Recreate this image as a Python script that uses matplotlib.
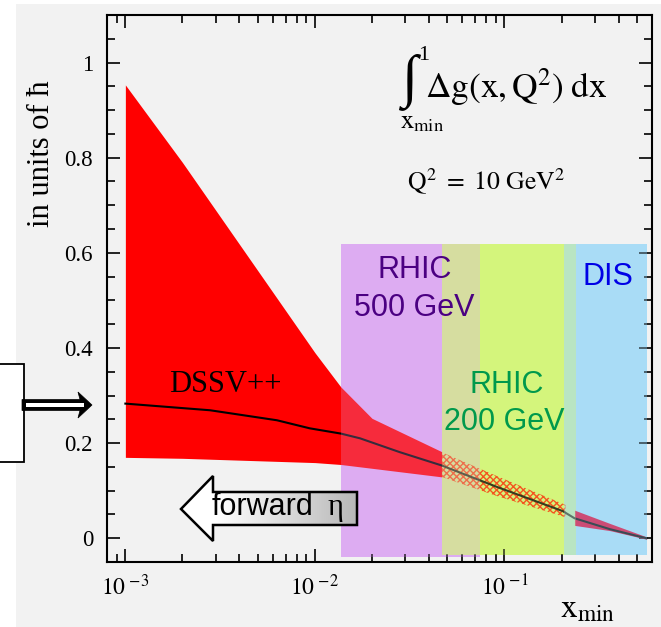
import numpy as np
import matplotlib
matplotlib.use('Agg')
import matplotlib.pyplot as plt
from matplotlib.patches import Rectangle, Polygon
from matplotlib.ticker import FixedLocator, LogLocator, NullFormatter

plt.rcParams['mathtext.fontset'] = 'stix'
plt.rcParams['font.family'] = ['Liberation Serif', 'DejaVu Serif']
plt.rcParams['hatch.linewidth'] = 1.0

# ---------------- data ----------------
# DSSV++ uncertainty band (solid part)
band_x = [1e-3, 2e-3, 1e-2, 0.0137, 0.02, 0.0466]
band_hi = [0.953, 0.790, 0.390, 0.318, 0.252, 0.182]
band_lo = [0.170, 0.168, 0.159, 0.155, 0.147, 0.129]
# band in RHIC 200 GeV region (hatched)
hatch_x = [0.0466, 0.0908, 0.21]
hatch_hi = [0.181, 0.131, 0.070]
hatch_lo = [0.129, 0.089, 0.044]
# band in DIS region
dis_x = [0.234, 0.36, 0.56]
dis_hi = [0.059, 0.031, 0.003]
dis_lo = [0.027, 0.016, -0.002]
# DSSV++ central curve
cv_x = [1e-3, 2.8e-3, 6.3e-3, 9.4e-3, 0.0137, 0.0173, 0.028, 0.0466,
        0.091, 0.203, 0.234, 0.36, 0.56]
cv_y = [0.283, 0.269, 0.248, 0.231, 0.220, 0.210, 0.181, 0.153,
        0.108, 0.057, 0.042, 0.019, 0.0]
# kinematic coverage regions
region_labels = ['RHIC\n500 GeV', 'RHIC\n200 GeV', 'DIS']
region_lo = [0.0137, 0.0466, 0.2055]
region_hi = [0.0741, 0.238, 0.5615]
region_top = [0.618, 0.618, 0.618]
region_bottom = [-0.040, -0.036, -0.035]
region_colors = ['#ddacf2', '#d4f57c', '#a9dcf6']
region_text_colors = ['#4b0082', '#00994c', '#0000e6']

x_ticks = [1e-3, 1e-2, 1e-1]
x_ticklabels = [r'$10^{\ \mathrm{-3}}$', r'$10^{\ \mathrm{-2}}$',
                r'$10^{\ \mathrm{-1}}$']
y_ticks = [0, 0.2, 0.4, 0.6, 0.8, 1.0]
y_ticklabels = ['0', '0.2', '0.4', '0.6', '0.8', '1']

# ---------------- figure ----------------
W, H = 661, 627
fig = plt.figure(figsize=(W / 100, H / 100), dpi=100)
fig.patch.set_facecolor('white')

bg = fig.add_axes([0, 0, 1, 1], zorder=0)
bg.set_xlim(0, W); bg.set_ylim(H, 0); bg.axis('off')
bg.add_patch(Rectangle((16, 4), W, H, facecolor='#f2f2f2', edgecolor='none'))

L, R, T, B = 107, 652, 15, 562
ax = fig.add_axes([L / W, 1 - B / H, (R - L) / W, (B - T) / H], zorder=1)
ax.set_facecolor('#f2f2f2')
ax.set_xscale('log')
ax.set_xlim(8e-4, 0.6)
ax.set_ylim(-0.05, 1.1)

def region(i, alpha=1.0, z=1.0):
    ax.fill_between([region_lo[i], region_hi[i]], [region_bottom[i]] * 2,
                    [region_top[i]] * 2, color=region_colors[i], lw=0,
                    alpha=alpha, zorder=z)

# base layers
region(0, 1.0, 1.0)
region(1, 1.0, 1.1)
region(0, 0.45, 1.2)
region(2, 1.0, 1.3)
region(1, 0.5, 1.4)

# band
ax.fill_between(band_x, band_lo, band_hi, color='#ff0000', lw=0, zorder=2)
ax.fill_between(hatch_x, hatch_lo, hatch_hi, facecolor='none',
                edgecolor='#ff2000', hatch='xxxxx', lw=0, zorder=2)
ax.fill_between(dis_x, dis_lo, dis_hi, color='#e00030', lw=0, zorder=2)
ax.plot(cv_x, cv_y, color='black', lw=1.5, zorder=2.5)

# translucent overlays
region(0, 0.25, 3.0)
region(1, 0.25, 3.1)
region(2, 0.35, 3.2)

# ticks
ax.xaxis.set_major_locator(FixedLocator(x_ticks))
ax.set_xticklabels(x_ticklabels)
ax.xaxis.set_minor_locator(LogLocator(base=10, subs=np.arange(2, 10)))
ax.xaxis.set_minor_formatter(NullFormatter())
ax.yaxis.set_major_locator(FixedLocator(y_ticks))
ax.set_yticklabels(y_ticklabels)
ax.yaxis.set_minor_locator(FixedLocator(np.arange(-0.05, 1.101, 0.05)))
ax.tick_params(which='both', direction='in', top=True, right=True,
               width=1.2, colors='black')
ax.tick_params(which='major', length=9.5)
ax.tick_params(which='minor', length=5.5)
ax.tick_params(axis='y', which='major', labelsize=16.5, pad=10)
ax.tick_params(axis='x', which='major', labelsize=17, pad=9)
for lab in ax.get_yticklabels():
    lab.set_family('Liberation Serif')
for s in ax.spines.values():
    s.set_linewidth(1.5)

# ---------------- overlay (pixel coordinates) ----------------
ov = fig.add_axes([0, 0, 1, 1], zorder=5)
ov.set_xlim(0, W); ov.set_ylim(H, 0); ov.axis('off')
ov.patch.set_alpha(0)

# region labels
sans = 'Liberation Sans'
ov.text(415, 278, 'RHIC', ha='center', va='baseline', fontsize=22,
        family=sans, color=region_text_colors[0])
ov.text(414, 316, '500 GeV', ha='center', va='baseline', fontsize=22,
        family=sans, color=region_text_colors[0])
ov.text(507, 393, 'RHIC', ha='center', va='baseline', fontsize=22,
        family=sans, color=region_text_colors[1])
ov.text(504, 430, '200 GeV', ha='center', va='baseline', fontsize=22,
        family=sans, color=region_text_colors[1])
ov.text(608, 285, 'DIS', ha='center', va='baseline', fontsize=22,
        family=sans, color=region_text_colors[2])

ov.text(169, 392, 'DSSV++', ha='left', va='baseline', fontsize=22,
        family='Liberation Serif')

# formula
ov.text(409, 94, '∫', ha='center', va='baseline', fontsize=42,
        family='Liberation Serif')
ov.text(418, 60, '1', ha='left', va='baseline', fontsize=16,
        family='Liberation Serif')
ov.text(400, 128, r'$\mathrm{x}_{\mathrm{min}}$', ha='left', va='baseline',
        fontsize=19)
ov.text(425, 98, r'$\Delta\mathrm{g}(\mathrm{x},\mathrm{Q}^{2})\;\mathrm{dx}$',
        ha='left', va='baseline', fontsize=25.5)
ov.text(407, 190, r'$\mathrm{Q}^{2}\ =\ 10\ \mathrm{GeV}^{2}$', ha='left',
        va='baseline', fontsize=18.5)

# axis titles
ov.text(42, 80, 'in units of ħ', rotation=90, ha='center', va='top',
        fontsize=22, family='Liberation Serif')
ov.text(560, 617, r'$\mathrm{x}_{\mathrm{min}}$', ha='left', va='baseline',
        fontsize=24)

# left box with double arrow
ov.add_patch(Rectangle((-5, 364), 29, 98, facecolor='white',
                       edgecolor='black', lw=1.3, zorder=6))
ov.add_patch(Polygon([(22, 399.5), (80, 399.5), (78, 392), (92, 405),
                      (78, 418), (80, 410.5), (22, 410.5)], closed=True,
                     facecolor='black', edgecolor='black', lw=0.5, zorder=7))
ov.add_patch(Rectangle((26, 403.3), 58, 3.6, facecolor='white',
                       edgecolor='none', zorder=8))

# forward eta arrow with gradient
arrow_pts = [(181, 509), (213, 476), (213, 492), (357, 492), (357, 525),
             (213, 525), (213, 541)]
arr = Polygon(arrow_pts, closed=True, facecolor='none', edgecolor='black',
              lw=1.8, zorder=7)
grad = np.linspace(0, 1, 256)
grad = np.clip((grad - 0.2) / 0.8, 0, 1)
vals = 1.0 - 0.28 * grad
img = np.repeat(np.stack([vals, vals, vals], axis=-1)[None, :, :], 2, axis=0)
im = ov.imshow(img, extent=[181, 357, 541, 476], aspect='auto', zorder=6,
               interpolation='bilinear')
clip = Polygon(arrow_pts, closed=True, transform=ov.transData)
im.set_clip_path(clip)
ov.add_patch(arr)
ov.text(212, 515, 'forward', ha='left', va='baseline', fontsize=22,
        family=sans, zorder=8)
ov.text(327, 515, 'η', ha='left', va='baseline', fontsize=22,
        family='Liberation Serif', zorder=8)
ov.set_xlim(0, W); ov.set_ylim(H, 0)

fig.savefig('out.png', dpi=100)
